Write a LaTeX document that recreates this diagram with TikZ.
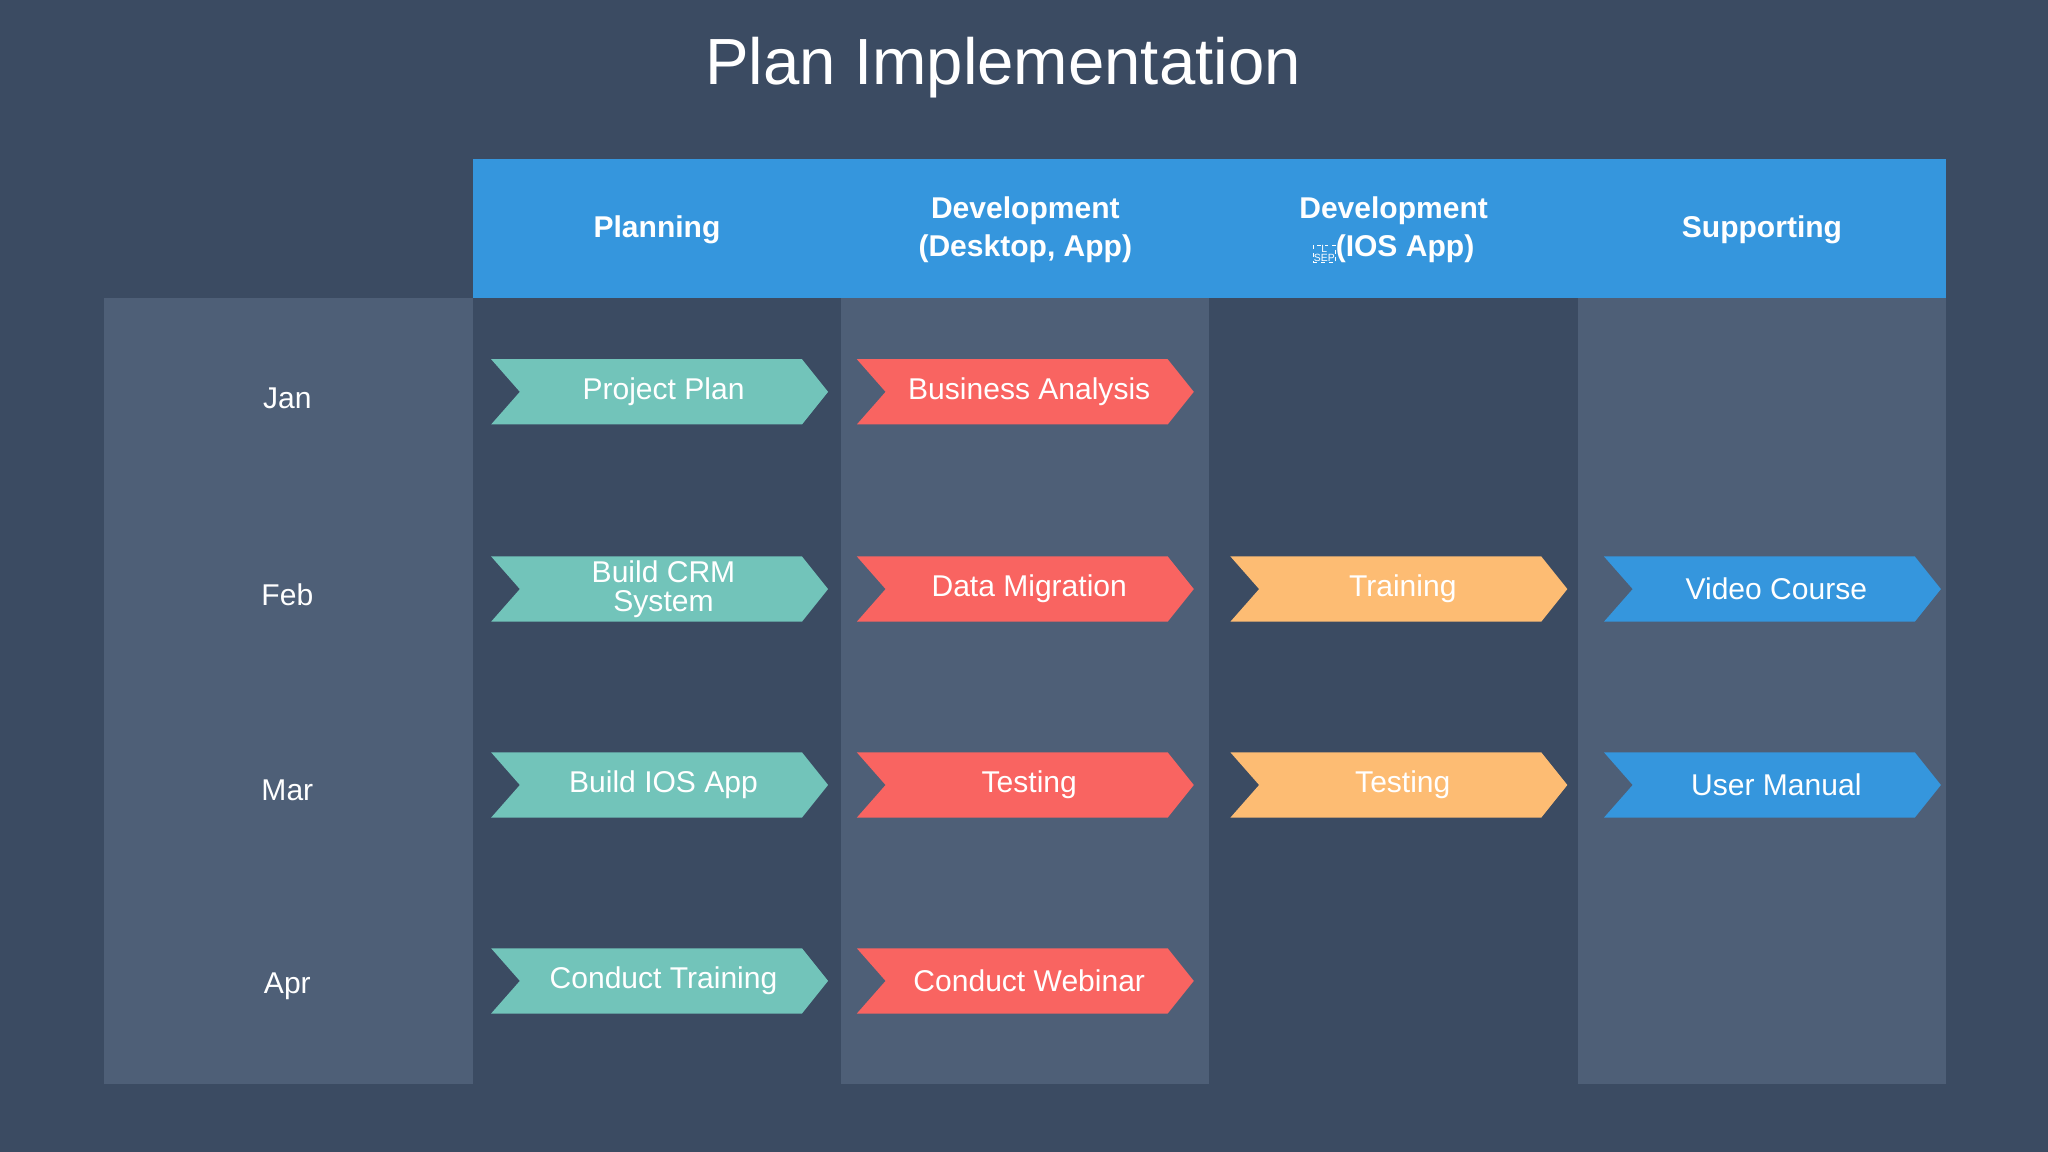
\documentclass[tikz,border=0pt]{standalone}
\usepackage{fontspec}
\setmainfont{Liberation Sans}
\definecolor{bg}{HTML}{3B4B62}
\definecolor{lite}{HTML}{4E5F77}
\definecolor{hdr}{HTML}{3596DD}
\definecolor{teal}{HTML}{72C4BA}
\definecolor{red}{HTML}{F96461}
\definecolor{orng}{HTML}{FDBC73}
\definecolor{blu}{HTML}{3596DD}
\newcommand\chev[5]{%
  \fill[#4] (#2-129,#3-25) -- (#2+109,#3-25) -- (#2+129,#3) -- (#2+109,#3+25) -- (#2-129,#3+25) -- (#2-107,#3) -- cycle;
  \node[chevtext] (#1) at (#2+3,#3) {#5};}
\begin{document}
\begin{tikzpicture}[x=1pt,y=-1pt,
  chevtext/.style={text=white,font=\fontsize{23}{22}\selectfont,align=center},
  hdrtext/.style={text=white,font=\fontsize{23}{29}\selectfont\bfseries,align=center},
  month/.style={text=white,font=\fontsize{23}{26}\selectfont}]
\fill[bg] (0,0) rectangle (1568,882);
\useasboundingbox (0,0) rectangle (1568,882);
\node[text=white,font=\fontsize{50}{56}\selectfont] (title) at (768,52) {Plan Implementation};
\fill[hdr] (362,122) rectangle (1490,228);
\fill[lite] (80,228) rectangle (362,830);
\fill[lite] (644,228) rectangle (926,830);
\fill[lite] (1208,228) rectangle (1490,830);
\node[hdrtext] (h1) at (503,176) {Planning};
\node[hdrtext] (h2) at (785,176) {Development\\(Desktop, App)};
\node[hdrtext] (h3) at (1067,176) {Development\\\tikz[baseline=-2pt]\node[draw,dashed,inner sep=0.5pt,font=\fontsize{8}{7}\selectfont\mdseries,align=center] (sep) {L\\SEP};(IOS App)};
\node[hdrtext] (h4) at (1349,176) {Supporting};
\node[month] (m1) at (220,305) {Jan};
\node[month] (m2) at (220,455) {Feb};
\node[month] (m3) at (220,605) {Mar};
\node[month] (m4) at (220,755) {Apr};
\chev{a1}{505}{300}{teal}{Project Plan}
\chev{a2}{505}{451}{teal}{Build CRM\\System}
\chev{a3}{505}{601}{teal}{Build IOS App}
\chev{a4}{505}{751}{teal}{Conduct Training}
\chev{b1}{785}{300}{red}{Business Analysis}
\chev{b2}{785}{451}{red}{Data Migration}
\chev{b3}{785}{601}{red}{Testing}
\chev{b4}{785}{751}{red}{Conduct Webinar}
\chev{c2}{1071}{451}{orng}{Training}
\chev{c3}{1071}{601}{orng}{Testing}
\chev{d2}{1357}{451}{blu}{Video Course}
\chev{d3}{1357}{601}{blu}{User Manual}
\end{tikzpicture}
\end{document}
